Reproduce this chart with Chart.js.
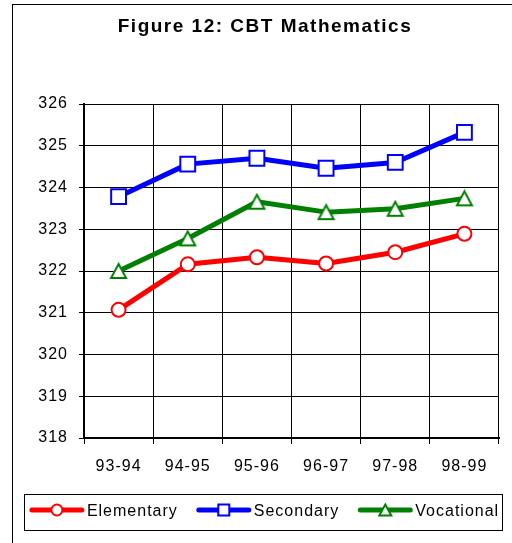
<!DOCTYPE html>
<html>
<head>
<meta charset="utf-8">
<script src="https://cdn.jsdelivr.net/npm/chart.js@4"></script>
<style>
  html, body { margin: 0; padding: 0; background: #fff; }
  canvas { display: block; }
</style>
</head>
<body>
<canvas id="myChart" width="512" height="543"></canvas>
<script>
const years = ["93-94", "94-95", "95-96", "96-97", "97-98", "98-99"];
const elementary = [321.07, 322.16, 322.33, 322.18, 322.45, 322.89];
const secondary = [323.78, 324.56, 324.70, 324.46, 324.60, 325.32];
const vocational = [322.00, 322.78, 323.66, 323.41, 323.49, 323.74];
const yMin = 318, yMax = 326;

const FONT = '"Liberation Sans", Arial, sans-serif';

// triangle marker drawn on its own canvas so it is centred by its box, like Excel
function makeTriangle(w, h, color) {
  const c = document.createElement('canvas');
  c.width = w + 4; c.height = h + 4;
  const t = c.getContext('2d');
  t.beginPath();
  t.moveTo(c.width / 2, 2);
  t.lineTo(c.width - 2, h + 2);
  t.lineTo(2, h + 2);
  t.closePath();
  t.fillStyle = '#fff';
  t.fill();
  t.lineWidth = 2;
  t.strokeStyle = color;
  t.stroke();
  return c;
}
const triBig = makeTriangle(15, 14, '#008000');

const frame = {
  id: 'frame',
  beforeUpdate(chart) {
    chart.ctx.letterSpacing = '1px';
  },
  beforeDraw(chart) {
    const ctx = chart.ctx;
    ctx.letterSpacing = '1px';
    ctx.save();
    ctx.fillStyle = '#fff';
    ctx.fillRect(0, 0, chart.width, chart.height);
    ctx.strokeStyle = '#000';
    ctx.lineWidth = 1;
    ctx.strokeRect(12.5, 4.5, 600, 600);
    ctx.restore();
  },
  afterDraw(chart) {
    const ctx = chart.ctx;
    ctx.save();
    // title
    ctx.fillStyle = '#000';
    ctx.font = 'bold 19px ' + FONT;
    ctx.letterSpacing = '1.5px';
    ctx.textAlign = 'center';
    ctx.textBaseline = 'alphabetic';
    ctx.fillText('Figure 12: CBT Mathematics', 265, 32);

    // legend
    ctx.strokeStyle = '#000';
    ctx.lineWidth = 1;
    ctx.strokeRect(24.5, 494.5, 478, 36);
    ctx.font = '16px ' + FONT;
    ctx.letterSpacing = '1px';
    ctx.textAlign = 'left';
    const sym = 56, gapT = 2, gapI = 18;
    const sets = chart.data.datasets;
    const widths = sets.map(d => sym + gapT + ctx.measureText(d.label).width);
    const total = widths.reduce((a, b) => a + b, 0) + gapI * (sets.length - 1);
    let x = 264 - total / 2;
    const y = 510;
    sets.forEach((d, i) => {
      ctx.strokeStyle = d.borderColor;
      ctx.lineWidth = 5;
      ctx.lineCap = 'round';
      ctx.beginPath();
      ctx.moveTo(x + 3, y);
      ctx.lineTo(x + sym - 3, y);
      ctx.stroke();
      const cx = x + sym / 2;
      ctx.lineWidth = 2;
      ctx.fillStyle = '#fff';
      ctx.beginPath();
      if (d.legendMarker === 'circle') {
        ctx.arc(cx, y, 5.5, 0, Math.PI * 2);
      } else if (d.legendMarker === 'rect') {
        ctx.rect(cx - 5.5, y - 5.5, 11, 11);
      } else {
        ctx.moveTo(cx, y - 5.5);
        ctx.lineTo(cx + 6, y + 5.5);
        ctx.lineTo(cx - 6, y + 5.5);
        ctx.closePath();
      }
      ctx.fill();
      ctx.stroke();
      ctx.fillStyle = '#000';
      ctx.fillText(d.label, x + sym + gapT, y + 6);
      x += widths[i] + gapI;
    });
    ctx.restore();
  }
};

const ctx = document.getElementById('myChart');

new Chart(ctx, {
  type: 'line',
  data: {
    labels: years,
    datasets: [
      {
        label: 'Elementary',
        data: elementary,
        borderColor: '#ff0000',
        borderWidth: 5,
        pointStyle: 'circle',
        pointRadius: 7,
        pointBorderWidth: 2,
        pointBackgroundColor: '#fff',
        pointBorderColor: '#ff0000',
        legendMarker: 'circle',
      },
      {
        label: 'Secondary',
        data: secondary,
        borderColor: '#0000ff',
        borderWidth: 5,
        pointStyle: 'rect',
        pointRadius: 10.5,
        pointBorderWidth: 2,
        pointBackgroundColor: '#fff',
        pointBorderColor: '#0000ff',
        legendMarker: 'rect',
      },
      {
        label: 'Vocational',
        data: vocational,
        borderColor: '#008000',
        borderWidth: 5,
        pointStyle: triBig,
        pointRadius: 8,
        legendMarker: 'triangle',
      },
    ],
  },
  options: {
    responsive: false,
    animation: false,
    devicePixelRatio: 1,
    borderJoinStyle: 'round',
    font: { family: FONT, size: 16 },
    layout: { padding: { left: 0, top: 104, right: 13, bottom: 49 } },
    plugins: {
      legend: { display: false },
      title: { display: false },
      tooltip: { enabled: false },
    },
    scales: {
      x: {
        offset: true,
        grid: { offset: true, color: '#000', lineWidth: 1, tickLength: 6 },
        border: { color: '#000', width: 2 },
        ticks: { color: '#000', font: { family: FONT, size: 16 }, padding: 13, maxRotation: 0 },
        afterFit(s) { s.height = 56; },
      },
      y: {
        min: yMin,
        max: yMax,
        grid: { color: '#000', lineWidth: 1, tickLength: 5 },
        border: { color: '#000', width: 2 },
        ticks: { stepSize: 1, color: '#000', font: { family: FONT, size: 16 }, padding: 11 },
        afterFit(s) { s.width = 84; },
      },
    },
  },
  plugins: [frame],
});
</script>
</body>
</html>
